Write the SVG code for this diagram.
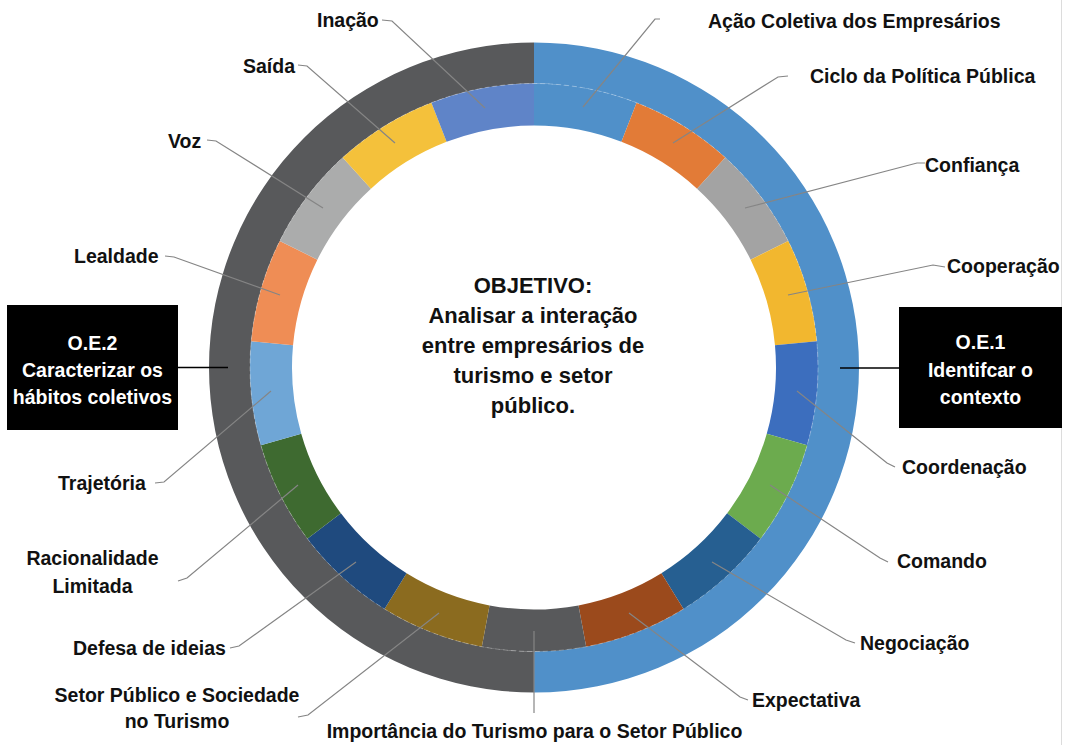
<svg xmlns="http://www.w3.org/2000/svg" width="1065" height="745" viewBox="0 0 1065 745">
<style>
text{font-family:"Liberation Sans",Arial,sans-serif;font-weight:bold}
.lbl{font-size:19.5px;fill:#111}
.oe{font-size:19.5px;fill:#fff;text-anchor:middle}
.ctr{font-size:22px;fill:#111;text-anchor:middle}
.ld{fill:none;stroke:#858585;stroke-width:1.2}
.oel{fill:none;stroke:#000;stroke-width:1.6}
</style>
<rect width="1065" height="745" fill="#fff"/>
<line x1="1061.5" y1="0" x2="1061.5" y2="745" stroke="#dcdcdc" stroke-width="1"/>
<g id="ring-outer">
<path d="M534 42.5A325 325 0 0 1 534 692.5L534 651.5A284 284 0 0 0 534 83.5Z" fill="#5090C9"/>
<path d="M534 692.5A325 325 0 0 1 534 42.5L534 83.5A284 284 0 0 0 534 651.5Z" fill="#58595B"/>
</g>
<g id="ring-inner">
<path id="seg-acao" d="M534 83.5A284 284 0 0 1 636.59 102.68L621.42 141.84A242 242 0 0 0 534 125.5Z" fill="#5090C9"/>
<path id="seg-ciclo" d="M636.59 102.68A284 284 0 0 1 725.33 157.62L697.04 188.66A242 242 0 0 0 621.42 141.84Z" fill="#E27B37"/>
<path id="seg-confianca" d="M725.33 157.62A284 284 0 0 1 788.22 240.91L750.63 259.63A242 242 0 0 0 697.04 188.66Z" fill="#A3A3A3"/>
<path id="seg-cooperacao" d="M788.22 240.91A284 284 0 0 1 816.79 341.3L774.97 345.17A242 242 0 0 0 750.63 259.63Z" fill="#F2B72F"/>
<path id="seg-coordenacao" d="M816.79 341.3A284 284 0 0 1 807.16 445.22L766.76 433.73A242 242 0 0 0 774.97 345.17Z" fill="#3C6EBE"/>
<path id="seg-comando" d="M807.16 445.22A284 284 0 0 1 760.64 538.65L727.12 513.34A242 242 0 0 0 766.76 433.73Z" fill="#6CAB4E"/>
<path id="seg-negociacao" d="M760.64 538.65A284 284 0 0 1 683.51 608.96L661.4 573.25A242 242 0 0 0 727.12 513.34Z" fill="#265F91"/>
<path id="seg-expectativa" d="M683.51 608.96A284 284 0 0 1 586.19 646.66L578.47 605.38A242 242 0 0 0 661.4 573.25Z" fill="#9B4A1C"/>
<path id="seg-importancia" d="M586.19 646.66A284 284 0 0 1 481.81 646.66L489.53 605.38A242 242 0 0 0 578.47 605.38Z" fill="#58595B"/>
<path id="seg-setor" d="M481.81 646.66A284 284 0 0 1 384.49 608.96L406.6 573.25A242 242 0 0 0 489.53 605.38Z" fill="#8B6B1F"/>
<path id="seg-defesa" d="M384.49 608.96A284 284 0 0 1 307.36 538.65L340.88 513.34A242 242 0 0 0 406.6 573.25Z" fill="#1F4A7E"/>
<path id="seg-racionalidade" d="M307.36 538.65A284 284 0 0 1 260.84 445.22L301.24 433.73A242 242 0 0 0 340.88 513.34Z" fill="#3E6A30"/>
<path id="seg-trajetoria" d="M260.84 445.22A284 284 0 0 1 251.21 341.3L293.03 345.17A242 242 0 0 0 301.24 433.73Z" fill="#6FA6D6"/>
<path id="seg-lealdade" d="M251.21 341.3A284 284 0 0 1 279.78 240.91L317.37 259.63A242 242 0 0 0 293.03 345.17Z" fill="#EF8D55"/>
<path id="seg-voz" d="M279.78 240.91A284 284 0 0 1 342.67 157.62L370.96 188.66A242 242 0 0 0 317.37 259.63Z" fill="#ABACAC"/>
<path id="seg-saida" d="M342.67 157.62A284 284 0 0 1 431.41 102.68L446.58 141.84A242 242 0 0 0 370.96 188.66Z" fill="#F4C13B"/>
<path id="seg-inacao" d="M431.41 102.68A284 284 0 0 1 534 83.5L534 125.5A242 242 0 0 0 446.58 141.84Z" fill="#5F84C8"/>
<circle cx="534" cy="367.5" r="284" fill="none" stroke="#fff" stroke-opacity="0.35" stroke-width="0.8" stroke-dasharray="5 3"/>
</g>
<g id="connectors">
<polyline class="ld" points="382,20 392,21 485,108"/>
<polyline class="ld" points="298,65 307,66 395,143"/>
<polyline class="ld" points="207,140 216,141 323,208"/>
<polyline class="ld" points="165,256 174,257 280,295"/>
<polyline class="ld" points="155,483 164,482 271,391"/>
<polyline class="ld" points="178,581 187,578 298,485"/>
<polyline class="ld" points="230,648 239,646 356,562"/>
<polyline class="ld" points="298,717 308,715 439,613"/>
<polyline class="ld" points="534,713 534,631"/>
<polyline class="ld" points="748,700 740,697 629,613"/>
<polyline class="ld" points="855,643 846,640 712,562"/>
<polyline class="ld" points="888,562 880,558 770,485"/>
<polyline class="ld" points="895,467 887,463 797,391"/>
<polyline class="ld" points="945,267 933,265 788,295"/>
<polyline class="ld" points="925,163 917,163 745,208"/>
<polyline class="ld" points="788,76 778,77 673,143"/>
<polyline class="ld" points="660,19 655,19 583,107"/>
<line class="oel" x1="178" y1="367.5" x2="228" y2="367.5"/>
<line class="oel" x1="899" y1="368" x2="840" y2="368"/>
</g>
<g id="center"><text class="ctr" x="533" y="293">OBJETIVO:</text><text class="ctr" x="533" y="323">Analisar a interação</text><text class="ctr" x="533" y="353">entre empresários de</text><text class="ctr" x="533" y="383">turismo e setor</text><text class="ctr" x="533" y="413">público.</text></g>
<g id="oe2"><rect x="7" y="305" width="171" height="125" fill="#000"/><text class="oe" x="92.5" y="350">O.E.2</text><text class="oe" x="92.5" y="377">Caracterizar os</text><text class="oe" x="92.5" y="404">hábitos coletivos</text></g>
<g id="oe1"><rect x="899" y="307" width="163" height="121" fill="#000"/><text class="oe" x="980.5" y="349">O.E.1</text><text class="oe" x="980.5" y="377">Identifcar o</text><text class="oe" x="980.5" y="404">contexto</text></g>
<g id="lbl-inacao"><text class="lbl" x="317" y="26.5">Inação</text></g>
<g id="lbl-saida"><text class="lbl" x="243" y="73">Saída</text></g>
<g id="lbl-voz"><text class="lbl" x="168" y="148">Voz</text></g>
<g id="lbl-lealdade"><text class="lbl" x="74" y="263">Lealdade</text></g>
<g id="lbl-trajetoria"><text class="lbl" x="58" y="490">Trajetória</text></g>
<g id="lbl-racionalidade"><text class="lbl" x="92.5" y="565" text-anchor="middle">Racionalidade</text><text class="lbl" x="92.5" y="593" text-anchor="middle">Limitada</text></g>
<g id="lbl-defesa"><text class="lbl" x="73" y="655">Defesa de ideias</text></g>
<g id="lbl-setor"><text class="lbl" x="177" y="702" text-anchor="middle">Setor Público e Sociedade</text><text class="lbl" x="177" y="728" text-anchor="middle">no Turismo</text></g>
<g id="lbl-importancia"><text class="lbl" x="534.5" y="738" text-anchor="middle">Importância do Turismo para o Setor Público</text></g>
<g id="lbl-expectativa"><text class="lbl" x="752" y="707">Expectativa</text></g>
<g id="lbl-negociacao"><text class="lbl" x="860" y="650">Negociação</text></g>
<g id="lbl-comando"><text class="lbl" x="897" y="568">Comando</text></g>
<g id="lbl-coordenacao"><text class="lbl" x="902" y="474">Coordenação</text></g>
<g id="lbl-cooperacao"><text class="lbl" x="947" y="273">Cooperação</text></g>
<g id="lbl-confianca"><text class="lbl" x="925" y="172">Confiança</text></g>
<g id="lbl-ciclo"><text class="lbl" x="810" y="83">Ciclo da Política Pública</text></g>
<g id="lbl-acao"><text class="lbl" x="708" y="28">Ação Coletiva dos Empresários</text></g>
</svg>
